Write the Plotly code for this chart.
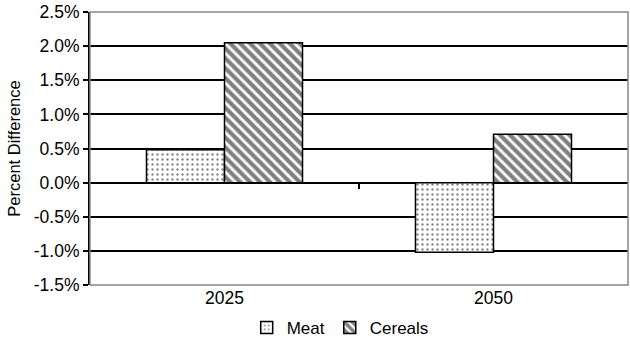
import plotly.graph_objects as go

categories = ["2025", "2050"]
meat = [0.48, -1.02]
cereals = [2.05, 0.71]
ytick_vals = [-1.5, -1.0, -0.5, 0.0, 0.5, 1.0, 1.5, 2.0, 2.5]
ytick_text = ["-1.5%", "-1.0%", "-0.5%", "0.0%", "0.5%", "1.0%", "1.5%", "2.0%", "2.5%"]

FONT = "Liberation Sans, Arial, sans-serif"

fig = go.Figure()
fig.add_trace(go.Bar(
    x=categories, y=meat, name="Meat",
    marker=dict(color="white", line=dict(color="black", width=1.5),
                pattern=dict(shape=".", fgcolor="#111111", bgcolor="white", size=5, solidity=0.18)),
))
fig.add_trace(go.Bar(
    x=categories, y=cereals, name="Cereals",
    marker=dict(color="white", line=dict(color="black", width=1.5),
                pattern=dict(shape="\\", fgcolor="black", bgcolor="white", size=7, solidity=0.6)),
))

fig.update_layout(
    width=630, height=347,
    margin=dict(l=90, r=2, t=10, b=62),
    paper_bgcolor="white", plot_bgcolor="white",
    barmode="group", bargap=0.42, bargroupgap=0,
    font=dict(family=FONT, size=17.5, color="black"),
    showlegend=True,
    legend=dict(orientation="h", x=0.54, xanchor="center", xref="container",
                y=0.055, yanchor="middle", yref="container",
                font=dict(size=17), itemwidth=30, traceorder="normal"),
    xaxis=dict(type="category", range=[-0.5, 1.5], showgrid=False, zeroline=False,
               showline=False, ticks="", tickfont=dict(size=17.5)),
    xaxis2=dict(overlaying="x", anchor="free", position=0.375, type="linear",
                range=[-0.5, 1.5], tickvals=[0.5], ticks="outside", ticklen=5,
                tickwidth=1.5, tickcolor="black", showticklabels=False,
                showgrid=False, zeroline=False, showline=False),
    yaxis=dict(range=[-1.5, 2.5], tickvals=ytick_vals, ticktext=ytick_text,
               showgrid=True, gridcolor="black", gridwidth=1.5,
               zeroline=True, zerolinecolor="black", zerolinewidth=1.5,
               showline=True, linecolor="black", linewidth=2,
               ticks="outside", ticklen=5, tickwidth=1.5, tickcolor="black",
               tickfont=dict(size=17.5),
               title=dict(text="Percent Difference", font=dict(size=16.5), standoff=9)),
    shapes=[dict(type="rect", xref="paper", yref="paper", x0=0, x1=1, y0=0, y1=1,
                 line=dict(color="#888888", width=1.5), layer="above")],
)
fig.add_trace(go.Scatter(x=[0.5], y=[0], xaxis="x2", mode="markers",
                         marker=dict(opacity=0), showlegend=False, hoverinfo="skip"))

fig.write_html("out.html")
